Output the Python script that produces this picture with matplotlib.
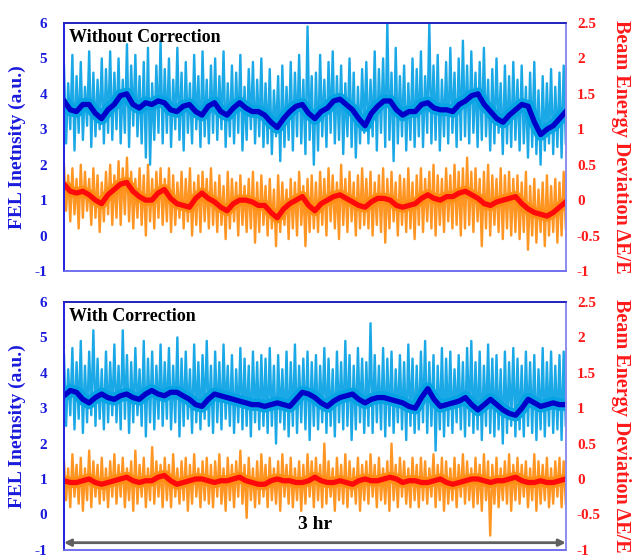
import numpy as np
import matplotlib.pyplot as plt

plt.rcParams['font.family'] = ['Liberation Serif', 'DejaVu Serif']
plt.rcParams['font.weight'] = 'bold'
plt.rcParams['axes.unicode_minus'] = False

# time axis (minutes over 3 hr)
t_end = 180

# ---- Without correction ----
top_fel_hi = [4.8, 4.3, 5.1, 4.5, 4.9, 4.2, 5.2, 4.6, 4.4, 5.0, 4.7, 5.2,
              4.6, 5.0, 4.4, 5.4, 4.8, 5.1, 4.5, 4.9, 5.3, 4.3, 4.8, 5.5,
              4.7, 5.0, 4.4, 5.3, 4.6, 4.9, 4.3, 5.1, 4.5, 5.2, 4.4, 4.8,
              5.0, 4.5, 5.2, 4.3, 4.8, 4.6, 5.1, 4.2, 4.7, 4.9, 4.4, 5.0,
              4.3, 4.7, 4.1, 4.5, 4.8, 4.2, 4.9, 4.6, 5.1, 4.4, 5.9, 4.5,
              4.6, 5.1, 4.4, 4.9, 5.2, 4.5, 4.8, 4.3, 5.0, 4.6, 4.2, 4.7,
              4.9, 4.4, 5.2, 4.7, 5.0, 6.0, 4.6, 5.3, 4.5, 4.8, 4.3, 5.0,
              4.7, 5.2, 4.5, 6.0, 4.8, 5.1, 4.4, 4.9, 5.3, 4.6, 5.0, 5.5,
              4.8, 5.2, 4.6, 4.9, 5.3, 4.4, 4.7, 5.0, 4.3, 4.8, 4.5, 4.9,
              4.4, 4.8, 4.2, 4.6, 4.9, 4.1, 4.5, 4.3, 4.7, 4.2, 4.6, 4.8]
top_fel_lo = [2.6, 3.0, 2.4, 2.9, 2.7, 3.1, 2.5, 2.8, 3.0, 2.6, 2.9, 2.7,
              3.0, 2.6, 2.9, 2.5, 3.1, 2.8, 2.6, 2.2, 2.0, 2.7, 2.9, 2.6,
              2.9, 2.5, 3.0, 2.7, 2.4, 2.9, 2.6, 3.0, 2.5, 2.8, 2.6, 2.9,
              2.7, 3.0, 2.5, 2.8, 2.6, 2.9, 2.4, 2.7, 3.0, 2.6, 2.8, 2.5,
              2.6, 2.3, 2.8, 2.1, 2.5, 2.7, 2.4, 2.8, 2.6, 2.3, 2.7, 2.0,
              2.4, 2.8, 2.5, 2.9, 2.6, 2.7, 2.3, 2.8, 2.5, 2.2, 2.6, 2.9,
              2.6, 2.8, 2.4, 2.9, 2.5, 2.7, 2.1, 2.6, 2.8, 2.4, 2.7, 2.5,
              2.8, 2.5, 2.9, 2.6, 2.7, 2.4, 2.8, 2.6, 2.9, 2.5, 2.7, 2.8,
              2.6, 2.9, 2.5, 2.7, 2.8, 2.4, 2.6, 2.9, 2.3, 2.6, 2.5, 2.7,
              2.4, 2.6, 2.2, 2.5, 2.3, 2.0, 2.4, 2.6, 2.3, 2.5, 2.2, 2.6]
top_fel_avg = [3.8, 3.55, 3.5, 3.7, 3.7, 3.45, 3.3, 3.55, 3.7, 3.95,
               4.0, 3.7, 3.6, 3.75, 3.7, 3.8, 3.75, 3.55, 3.5, 3.65,
               3.7, 3.5, 3.4, 3.65, 3.75, 3.5, 3.4, 3.6, 3.75, 3.6,
               3.5, 3.5, 3.4, 3.2, 3.05, 3.3, 3.5, 3.65, 3.7, 3.45,
               3.3, 3.5, 3.6, 3.8, 3.85, 3.7, 3.55, 3.3, 3.1, 3.45,
               3.65, 3.8, 3.8, 3.55, 3.4, 3.5, 3.5, 3.7, 3.75, 3.6,
               3.55, 3.55, 3.5, 3.7, 3.8, 3.95, 4.0, 3.7, 3.5, 3.3,
               3.2, 3.4, 3.55, 3.7, 3.65, 3.2, 2.85, 3.0, 3.1, 3.3, 3.5]
# beam energy drawn on the left scale (0 on the right axis = 1 on the left)
top_e_hi = [2.0, 1.7, 1.9, 1.6, 2.0, 1.8, 1.6, 1.9, 1.7, 1.5, 1.8, 2.0,
            1.7, 2.1, 1.9, 2.2, 1.8, 1.6, 1.9, 1.7, 2.0, 1.6, 1.8, 1.9,
            1.6, 1.9, 1.7, 1.5, 1.8, 1.6, 1.9, 1.5, 1.7, 1.8, 1.6, 1.9,
            1.5, 1.7, 1.4, 1.8, 1.6, 1.5, 1.7, 1.4, 1.6, 1.8, 1.5, 1.7,
            1.4, 1.6, 1.3, 1.7, 1.5, 1.3, 1.6, 1.5, 1.8, 1.4, 1.6, 1.7,
            1.5, 1.8, 1.6, 1.9, 1.7, 1.5, 2.0, 1.6, 1.8, 1.5, 1.7, 1.9,
            1.6, 1.8, 1.5, 1.7, 1.9, 1.6, 1.8, 1.5, 1.7, 1.6, 1.9, 1.5,
            1.7, 1.9, 1.6, 1.8, 2.0, 1.7, 1.6, 1.9, 1.7, 2.0, 1.8, 1.9,
            2.2, 1.8, 1.9, 1.6, 1.8, 2.0, 1.7, 1.6, 1.9, 1.7, 1.8, 1.6,
            1.7, 1.5, 1.8, 1.4, 1.6, 1.3, 1.5, 1.7, 1.4, 1.6, 1.5, 1.8]
top_e_lo = [0.7, 0.4, 0.6, 0.2, 0.5, 0.7, 0.3, 0.5, 0.1, 0.4, 0.6, 0.3,
            0.5, 0.3, 0.6, 0.4, 0.2, 0.5, 0.3, 0.0, 0.4, 0.2, 0.5, 0.3,
            0.4, 0.1, 0.3, 0.5, 0.2, 0.4, 0.0, 0.3, 0.1, 0.4, 0.2, 0.3,
            0.1, 0.3, -0.1, 0.2, 0.4, 0.0, 0.3, 0.1, 0.2, -0.2, 0.1, 0.3,
            0.0, 0.2, -0.3, 0.1, 0.3, -0.1, 0.2, 0.0, 0.3, -0.3, 0.1, 0.2,
            0.1, 0.3, 0.0, 0.4, 0.2, -0.1, 0.3, 0.1, 0.4, 0.0, 0.2, 0.3,
            0.2, 0.0, 0.3, 0.1, -0.2, 0.2, 0.4, 0.0, 0.3, 0.1, 0.2, -0.1,
            0.3, 0.1, 0.4, 0.2, 0.0, 0.3, 0.1, 0.4, 0.2, 0.3, 0.0, 0.2,
            0.3, 0.1, 0.4, -0.3, 0.2, 0.0, 0.3, 0.1, -0.1, 0.2, 0.0, 0.1,
            -0.1, 0.1, -0.4, 0.0, -0.2, 0.1, -0.3, 0.0, 0.1, -0.2, 0.0, 0.2]
top_e_avg = [1.45, 1.25, 1.2, 1.25, 1.15, 1.0, 0.9, 1.15, 1.3, 1.45,
             1.5, 1.25, 1.1, 1.0, 1.0, 1.2, 1.3, 1.05, 0.9, 0.85,
             0.8, 1.05, 1.2, 1.05, 0.95, 0.8, 0.7, 0.9, 1.0, 1.0,
             0.95, 0.85, 0.85, 0.65, 0.5, 0.75, 0.9, 1.0, 1.1, 0.85,
             0.7, 0.9, 1.0, 1.1, 1.15, 1.05, 0.95, 0.85, 0.8, 0.95,
             1.05, 1.05, 1.0, 0.85, 0.8, 0.85, 0.9, 1.05, 1.15, 1.05,
             1.0, 1.1, 1.1, 1.2, 1.25, 1.15, 1.05, 0.9, 0.85, 0.95,
             1.0, 1.05, 1.1, 0.9, 0.75, 0.65, 0.6, 0.55, 0.65, 0.8, 0.95]

# ---- With correction ----
bot_fel_hi = [4.5, 4.1, 4.7, 4.3, 4.9, 4.2, 4.6, 5.2, 4.4, 4.1, 4.6, 4.3,
              4.8, 4.2, 5.2, 4.5, 4.3, 4.7, 4.1, 4.9, 4.4, 4.6, 4.2, 4.8,
              4.3, 4.7, 4.2, 5.0, 4.4, 4.6, 4.1, 4.8, 4.3, 4.5, 4.9, 4.2,
              4.6, 4.3, 4.8, 4.2, 4.5, 4.1, 4.7, 4.4, 4.2, 4.6, 4.3, 4.5,
              4.4, 4.7, 4.2, 4.5, 4.1, 4.6, 4.3, 4.8, 4.2, 4.4, 4.6, 4.3,
              4.5, 4.2, 4.7, 4.4, 4.1, 4.6, 4.3, 4.9, 4.5, 4.2, 4.7, 4.4,
              4.3, 5.4, 4.5, 4.2, 4.7, 4.4, 4.6, 4.1, 4.5, 4.3, 4.8, 4.4,
              4.2, 4.6, 4.9, 4.3, 4.5, 4.2, 4.7, 4.4, 4.6, 4.1, 4.5, 4.3,
              4.7, 4.9, 4.3, 4.6, 4.2, 4.8, 4.4, 4.5, 4.1, 4.6, 4.3, 4.7,
              4.4, 4.2, 4.6, 4.3, 4.5, 4.1, 4.7, 4.3, 4.6, 4.2, 4.5, 4.6]
bot_fel_lo = [2.5, 2.8, 2.4, 2.7, 2.3, 2.6, 2.8, 2.5, 2.7, 2.4, 2.6, 2.8,
              2.6, 2.4, 2.7, 2.3, 2.6, 2.8, 2.5, 2.2, 2.6, 2.4, 2.7, 2.5,
              2.7, 2.4, 2.6, 2.2, 2.5, 2.7, 2.3, 2.6, 2.4, 2.7, 2.5, 2.3,
              2.6, 2.4, 2.7, 2.5, 2.3, 2.6, 2.4, 2.5, 2.2, 2.6, 2.4, 2.5,
              2.3, 2.5, 2.0, 2.6, 2.4, 2.2, 2.5, 2.3, 2.6, 2.4, 2.1, 2.5,
              2.4, 2.6, 2.3, 2.5, 2.2, 2.6, 2.4, 2.5, 2.1, 2.4, 2.6, 2.3,
              2.5, 2.3, 2.6, 2.4, 2.2, 2.5, 2.3, 2.6, 2.4, 2.1, 2.5, 2.3,
              2.4, 2.6, 2.3, 2.5, 1.8, 2.4, 2.2, 2.5, 2.3, 2.6, 2.4, 2.2,
              2.5, 2.3, 2.4, 2.1, 2.5, 2.3, 2.2, 2.4, 2.0, 2.3, 2.5, 2.2,
              2.4, 2.2, 2.5, 2.3, 2.1, 2.4, 2.2, 2.5, 2.3, 2.4, 2.1, 2.5]
bot_fel_avg = [3.35, 3.5, 3.45, 3.25, 3.15, 3.3, 3.4, 3.3, 3.25, 3.35,
               3.4, 3.3, 3.25, 3.4, 3.5, 3.4, 3.35, 3.45, 3.45, 3.35,
               3.25, 3.1, 3.05, 3.25, 3.4, 3.35, 3.3, 3.25, 3.2, 3.15,
               3.1, 3.1, 3.05, 3.1, 3.15, 3.1, 3.05, 3.25, 3.45, 3.4,
               3.3, 3.15, 3.05, 3.2, 3.3, 3.35, 3.4, 3.25, 3.15, 3.25,
               3.3, 3.3, 3.25, 3.2, 3.15, 3.05, 3.0, 3.3, 3.55, 3.25,
               3.05, 3.1, 3.15, 3.2, 3.3, 3.1, 2.95, 3.1, 3.25, 3.1,
               2.95, 2.85, 2.8, 3.0, 3.25, 3.15, 3.05, 3.1, 3.15, 3.1, 3.1]
bot_e_hi = [1.5, 1.3, 1.7, 1.4, 1.6, 1.3, 1.8, 1.5, 1.4, 1.6, 1.3, 1.5,
            1.7, 1.4, 1.6, 1.3, 1.5, 1.8, 1.4, 1.6, 1.3, 1.9, 1.5, 1.4,
            1.6, 1.4, 1.7, 1.3, 1.5, 1.6, 1.4, 1.7, 1.3, 1.5, 1.6, 1.4,
            1.5, 1.7, 1.3, 1.6, 1.4, 1.5, 1.8, 1.4, 1.6, 1.3, 1.5, 1.7,
            1.4, 1.6, 1.3, 1.5, 1.7, 1.4, 1.6, 1.3, 1.5, 1.4, 1.7, 1.5,
            1.6, 1.4, 2.0, 1.5, 1.3, 1.6, 1.4, 1.7, 1.5, 1.3, 1.6, 1.4,
            1.5, 1.7, 1.4, 1.6, 1.3, 1.5, 2.0, 1.4, 1.6, 1.5, 1.3, 1.6,
            1.4, 1.6, 1.5, 1.3, 1.7, 1.4, 1.6, 1.5, 1.3, 1.6, 1.4, 1.7,
            1.5, 1.3, 1.6, 1.4, 1.7, 1.5, 1.4, 1.6, 1.3, 1.5, 1.7, 1.4,
            1.6, 1.4, 1.5, 1.3, 1.7, 1.5, 1.4, 1.6, 1.3, 1.5, 1.6, 1.5]
bot_e_lo = [0.4, 0.2, 0.5, 0.3, 0.1, 0.4, 0.2, 0.5, 0.3, 0.4, 0.2, 0.5,
            0.3, 0.5, 0.2, 0.4, 0.1, 0.3, 0.5, 0.2, 0.4, 0.3, 0.5, 0.2,
            0.4, 0.2, 0.5, 0.3, 0.4, 0.1, 0.3, 0.5, 0.2, 0.4, 0.3, 0.2,
            0.5, 0.3, 0.1, 0.4, 0.2, 0.5, 0.3, -0.1, 0.4, 0.2, 0.3, 0.5,
            0.2, 0.4, 0.3, 0.1, 0.5, 0.3, 0.2, 0.4, 0.1, 0.3, 0.5, 0.2,
            0.4, 0.2, 0.3, 0.5, 0.1, 0.4, 0.3, 0.2, 0.5, 0.3, 0.1, 0.4,
            0.3, 0.5, 0.2, 0.4, 0.3, 0.1, 0.4, 0.2, 0.5, 0.3, 0.2, 0.4,
            0.2, 0.4, 0.3, 0.5, 0.2, 0.4, 0.1, 0.3, 0.4, 0.2, 0.5, 0.3,
            0.4, 0.2, 0.3, 0.1, 0.4, -0.6, 0.3, 0.2, 0.4, 0.3, 0.1, 0.4,
            0.3, 0.5, 0.2, 0.4, 0.1, 0.3, 0.4, 0.2, 0.3, 0.5, 0.2, 0.3]
bot_e_avg = [0.95, 0.9, 0.9, 0.95, 1.0, 0.9, 0.85, 0.9, 0.95, 1.0,
             1.05, 0.95, 0.9, 0.95, 0.95, 1.05, 1.1, 0.95, 0.85, 0.9,
             0.95, 1.0, 1.0, 0.95, 0.9, 0.95, 0.95, 1.0, 1.05, 0.95,
             0.9, 0.85, 0.85, 0.95, 1.0, 0.95, 0.95, 0.9, 0.9, 0.95,
             1.05, 0.95, 0.9, 0.9, 0.95, 0.9, 0.85, 0.95, 1.0, 0.95,
             0.95, 1.0, 1.05, 1.0, 0.9, 0.95, 0.95, 0.9, 0.9, 0.95,
             1.0, 0.9, 0.85, 0.9, 0.95, 1.0, 1.0, 0.95, 0.9, 0.95,
             0.95, 1.0, 1.05, 0.95, 0.9, 0.9, 0.95, 0.9, 0.9, 0.95, 1.0]

left_ticks = [-1, 0, 1, 2, 3, 4, 5, 6]
right_ticks = [-1, -0.5, 0, 0.5, 1, 1.5, 2, 2.5]
right_ticklabels = ["-1", "-0.5", "0", "0.5", "1", "1.5", "2", "2.5"]

BLUE_TXT = "#1a1adc"
RED_TXT = "#ff1a1a"


def zigzag(hi, lo):
    raw = np.empty(2 * len(hi))
    raw[0::2] = hi
    raw[1::2] = lo
    return np.linspace(0, t_end, raw.size), raw


def draw_panel(ax, title, fel_hi, fel_lo, fel_avg, e_hi, e_lo, e_avg):
    xs = np.linspace(0, t_end, len(fel_avg))
    x, y = zigzag(fel_hi, fel_lo)
    ax.plot(x, y, color="#1aa8e6", lw=1.7)
    x, y = zigzag(e_hi, e_lo)
    ax.plot(x, y, color="#ff9624", lw=1.7)
    # thin body of the raw signal just around the running average
    ax.plot(xs, fel_avg, color="#06a4e4", lw=9,
            solid_capstyle="butt", solid_joinstyle="round")
    ax.plot(xs, e_avg, color="#ff8e14", lw=8,
            solid_capstyle="butt", solid_joinstyle="round")
    ax.plot(xs, fel_avg, color="#0000c8", lw=3.8)
    ax.plot(xs, e_avg, color="#ff0a0a", lw=3.8)

    ax.set_xlim(0, t_end)
    ax.set_ylim(-1, 6)
    ax.set_xticks([])
    ax.set_yticks(left_ticks)
    ax.tick_params(axis="y", length=0, pad=12, labelsize=11,
                   labelcolor=BLUE_TXT)
    for lbl in ax.get_yticklabels():
        lbl.set_fontweight("bold")
    ax.set_ylabel("FEL Inetnsity (a.u.)", color=BLUE_TXT, fontsize=14,
                  fontweight="bold", labelpad=6)
    ax.text(0.01, 0.94, title, transform=ax.transAxes, fontsize=13,
            fontweight="bold", va="center", ha="left")

    ax2 = ax.twinx()
    ax2.set_ylim(-1, 2.5)
    ax2.set_yticks(right_ticks)
    ax2.set_yticklabels(right_ticklabels, fontweight="bold")
    ax2.tick_params(axis="y", length=0, pad=8, labelsize=11,
                    labelcolor=RED_TXT)
    ax2.set_ylabel("Beam Energy Deviation \u0394E/E", color=RED_TXT,
                   fontsize=14.5, fontweight="bold", rotation=270,
                   labelpad=22)

    for a in (ax, ax2):
        a.spines["left"].set_color("#2020e0")
        a.spines["top"].set_color("#2020c0")
        a.spines["right"].set_color("#8c8cf0")
        a.spines["bottom"].set_color("#7070f0")
        for s in a.spines.values():
            s.set_linewidth(1.2)
    return ax2


fig = plt.figure(figsize=(6.36, 5.57), dpi=100)
ax_top = fig.add_axes([0.1006, 0.5135, 0.789, 0.4452])
ax_bot = fig.add_axes([0.1006, 0.013, 0.789, 0.4448])

draw_panel(ax_top, "Without Correction", top_fel_hi, top_fel_lo,
           top_fel_avg, top_e_hi, top_e_lo, top_e_avg)
draw_panel(ax_bot, "With Correction", bot_fel_hi, bot_fel_lo,
           bot_fel_avg, bot_e_hi, bot_e_lo, bot_e_avg)

# 3 hr span arrow
ax_bot.annotate("", xy=(0, -0.8), xytext=(t_end, -0.8),
                arrowprops=dict(arrowstyle="<|-|>", color="#606060", lw=2,
                                mutation_scale=10, shrinkA=0, shrinkB=0))
ax_bot.text(t_end / 2, -0.3, "3 hr", fontsize=14, fontweight="bold",
            ha="center", va="center")

fig.savefig("out.png", dpi=100)
